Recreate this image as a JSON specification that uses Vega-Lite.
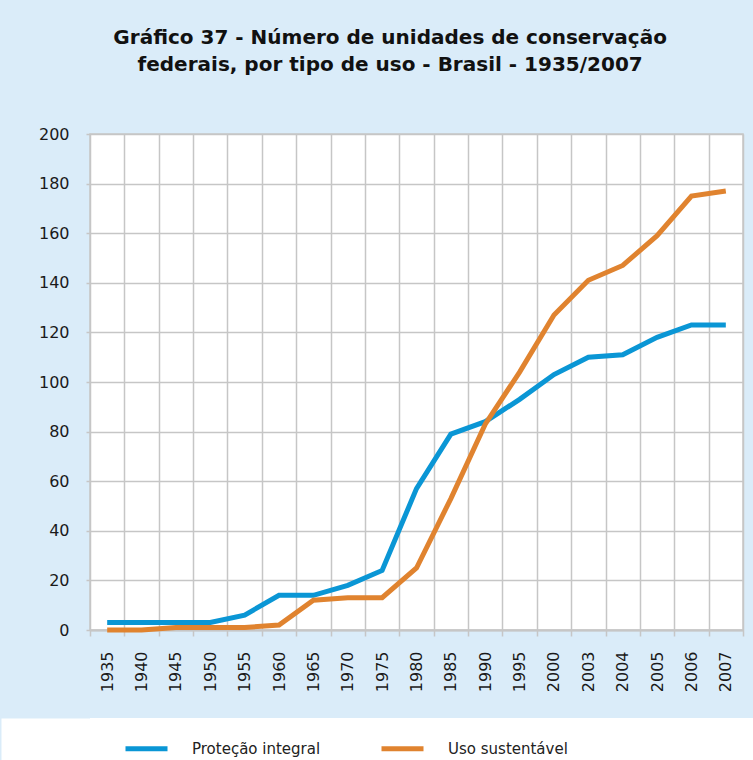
{
  "$schema": "https://vega.github.io/schema/vega-lite/v6.json",
  "background": "#daecf9",
  "padding": {"left": 0, "top": 28, "right": 0, "bottom": 0},
  "title": {
    "text": ["Gráfico 37 - Número de unidades de conservação", "federais, por tipo de uso - Brasil - 1935/2007"],
    "font": "DejaVu Sans",
    "fontSize": 20,
    "fontWeight": "bold",
    "color": "#111111",
    "lineHeight": 27,
    "anchor": "middle",
    "offset": 50,
    "dx": 13
  },
  "datasets": {
    "ucs": [
      {"ano": "1935", "tipo": "Proteção integral", "n": 3},
      {"ano": "1940", "tipo": "Proteção integral", "n": 3},
      {"ano": "1945", "tipo": "Proteção integral", "n": 3},
      {"ano": "1950", "tipo": "Proteção integral", "n": 3},
      {"ano": "1955", "tipo": "Proteção integral", "n": 6},
      {"ano": "1960", "tipo": "Proteção integral", "n": 14},
      {"ano": "1965", "tipo": "Proteção integral", "n": 14},
      {"ano": "1970", "tipo": "Proteção integral", "n": 18},
      {"ano": "1975", "tipo": "Proteção integral", "n": 24},
      {"ano": "1980", "tipo": "Proteção integral", "n": 57},
      {"ano": "1985", "tipo": "Proteção integral", "n": 79},
      {"ano": "1990", "tipo": "Proteção integral", "n": 84},
      {"ano": "1995", "tipo": "Proteção integral", "n": 93},
      {"ano": "2000", "tipo": "Proteção integral", "n": 103},
      {"ano": "2003", "tipo": "Proteção integral", "n": 110},
      {"ano": "2004", "tipo": "Proteção integral", "n": 111},
      {"ano": "2005", "tipo": "Proteção integral", "n": 118},
      {"ano": "2006", "tipo": "Proteção integral", "n": 123},
      {"ano": "2007", "tipo": "Proteção integral", "n": 123},
      {"ano": "1935", "tipo": "Uso sustentável", "n": 0},
      {"ano": "1940", "tipo": "Uso sustentável", "n": 0},
      {"ano": "1945", "tipo": "Uso sustentável", "n": 1},
      {"ano": "1950", "tipo": "Uso sustentável", "n": 1},
      {"ano": "1955", "tipo": "Uso sustentável", "n": 1},
      {"ano": "1960", "tipo": "Uso sustentável", "n": 2},
      {"ano": "1965", "tipo": "Uso sustentável", "n": 12},
      {"ano": "1970", "tipo": "Uso sustentável", "n": 13},
      {"ano": "1975", "tipo": "Uso sustentável", "n": 13},
      {"ano": "1980", "tipo": "Uso sustentável", "n": 25},
      {"ano": "1985", "tipo": "Uso sustentável", "n": 53},
      {"ano": "1990", "tipo": "Uso sustentável", "n": 83},
      {"ano": "1995", "tipo": "Uso sustentável", "n": 104},
      {"ano": "2000", "tipo": "Uso sustentável", "n": 127},
      {"ano": "2003", "tipo": "Uso sustentável", "n": 141},
      {"ano": "2004", "tipo": "Uso sustentável", "n": 147},
      {"ano": "2005", "tipo": "Uso sustentável", "n": 159},
      {"ano": "2006", "tipo": "Uso sustentável", "n": 175},
      {"ano": "2007", "tipo": "Uso sustentável", "n": 177}
    ]
  },
  "spacing": 0,
  "config": {
    "view": {"fill": "white"},
    "axis": {
      "labelFont": "DejaVu Sans",
      "labelFontSize": 16,
      "labelColor": "#1a1a1a",
      "gridColor": "#c6c6c6",
      "gridWidth": 1.5,
      "tickColor": "#c6c6c6",
      "tickWidth": 1.5,
      "domainColor": "#c6c6c6",
      "domainWidth": 2
    }
  },
  "vconcat": [
    {
      "width": 653,
      "height": 496,
      "view": {"stroke": "#c6c6c6", "strokeWidth": 1.5, "fill": "white"},
      "data": {"name": "ucs"},
      "mark": {"type": "line", "strokeWidth": 5},
      "encoding": {
        "x": {
          "field": "ano",
          "type": "ordinal",
          "sort": null,
          "scale": {"type": "band", "paddingInner": 0, "paddingOuter": 0},
          "axis": {
            "title": null,
            "labelAngle": -90,
            "tickBand": "extent",
            "grid": true,
            "tickSize": 6,
            "labelPadding": 15,
            "minExtent": 84
          }
        },
        "y": {
          "field": "n",
          "type": "quantitative",
          "scale": {"domain": [0, 200], "nice": false},
          "axis": {
            "title": null,
            "values": [0, 20, 40, 60, 80, 100, 120, 140, 160, 180, 200],
            "grid": true,
            "domain": false,
            "tickSize": 4,
            "labelPadding": 17,
            "minExtent": 89
          }
        },
        "color": {
          "field": "tipo",
          "type": "nominal",
          "scale": {"domain": ["Proteção integral", "Uso sustentável"], "range": ["#0a96d5", "#e0832f"]},
          "legend": null
        }
      }
    },
    {
      "width": 664,
      "height": 43,
      "view": {"stroke": null, "fill": "white"},
      "data": {"name": "ucs"},
      "mark": {"type": "point", "opacity": 0},
      "encoding": {
        "y": {
          "field": "n",
          "type": "quantitative",
          "axis": {
            "title": null,
            "labels": false,
            "ticks": false,
            "grid": false,
            "domain": true,
            "domainColor": "white",
            "domainWidth": 178,
            "domainCap": "butt"
          }
        },
        "color": {
          "field": "tipo",
          "type": "nominal",
          "scale": {"domain": ["Proteção integral", "Uso sustentável"], "range": ["#0a96d5", "#e0832f"]},
          "legend": {
            "title": null,
            "orient": "none",
            "legendX": 33,
            "legendY": 7,
            "direction": "horizontal",
            "symbolType": "stroke",
            "symbolSize": 1764,
            "symbolStrokeWidth": 5,
            "symbolOpacity": 1,
            "labelFont": "DejaVu Sans",
            "labelFontSize": 15,
            "labelColor": "#222222",
            "labelOffset": 22,
            "columnPadding": 50
          }
        }
      }
    }
  ],
  "resolve": {"scale": {"color": "shared"}, "legend": {"color": "independent"}}
}
